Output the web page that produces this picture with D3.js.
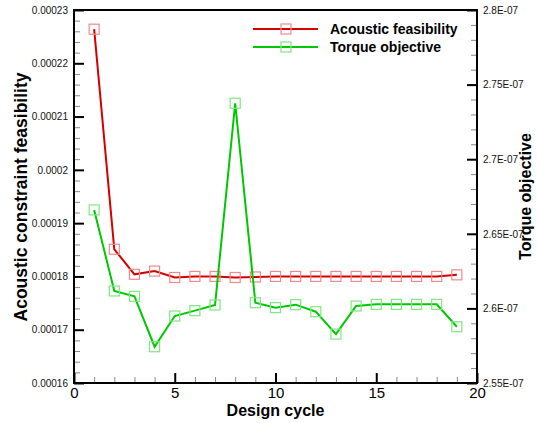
<!DOCTYPE html>
<html>
<head>
<meta charset="utf-8">
<script src="https://cdn.jsdelivr.net/npm/d3@7"></script>
<style>
  body { margin: 0; background: #fff; }
  svg { font-family: "Liberation Sans", Arial, sans-serif; }
  .minor line { stroke: #888; stroke-width: 1; }
  .major line { stroke: #000; stroke-width: 2; }
  .domain { display: none; }
</style>
</head>
<body>
<div id="chart"></div>
<script>
// data
const cycles = [1, 2, 3, 4, 5, 6, 7, 8, 9, 10, 11, 12, 13, 14, 15, 16, 17, 18, 19];
const acoustic = [0.0002264, 0.0001851, 0.0001804, 0.000181, 0.0001798, 0.00018, 0.00018, 0.0001798,
  0.0001799, 0.00018, 0.00018, 0.00018, 0.00018, 0.00018, 0.00018, 0.00018, 0.00018, 0.00018, 0.0001803];
const torque = [2.666e-7, 2.6117e-7, 2.6081e-7, 2.5743e-7, 2.5949e-7, 2.5985e-7, 2.6023e-7, 2.7375e-7,
  2.6038e-7, 2.6005e-7, 2.6025e-7, 2.5978e-7, 2.5828e-7, 2.6016e-7, 2.6027e-7, 2.6027e-7, 2.6027e-7, 2.6027e-7, 2.5877e-7];

const xTicks = [0, 5, 10, 15, 20];
const leftTicks = [0.00016, 0.00017, 0.00018, 0.00019, 0.0002, 0.00021, 0.00022, 0.00023];
const leftLabels = ["0.00016", "0.00017", "0.00018", "0.00019", "0.0002", "0.00021", "0.00022", "0.00023"];
const rightTicks = [2.55e-7, 2.6e-7, 2.65e-7, 2.7e-7, 2.75e-7, 2.8e-7];
const rightLabels = ["2.55E-07", "2.6E-07", "2.65E-07", "2.7E-07", "2.75E-07", "2.8E-07"];

const width = 537, height = 423;
const plotLeft = 74, plotRight = 477, plotTop = 10, plotBottom = 383;

const svg = d3.select("#chart").append("svg")
  .attr("width", width)
  .attr("height", height);

const x = d3.scaleLinear().domain([0, 20]).range([plotLeft, plotRight]);
const yL = d3.scaleLinear().domain([0.00016, 0.00023]).range([plotBottom, plotTop]);
const yR = d3.scaleLinear().domain([2.55e-7, 2.8e-7]).range([plotBottom, plotTop]);

// minor ticks
svg.append("g").attr("class", "minor")
  .attr("transform", `translate(0,${plotBottom})`)
  .call(d3.axisBottom(x).tickValues(d3.range(0, 21, 1)).tickSize(-6).tickFormat(""));
svg.append("g").attr("class", "minor")
  .attr("transform", `translate(${plotLeft},0)`)
  .call(d3.axisLeft(yL).tickValues(d3.range(0, 36).map(i => 0.00016 + i * 0.000002)).tickSize(-6).tickFormat(""));
svg.append("g").attr("class", "minor")
  .attr("transform", `translate(${plotRight},0)`)
  .call(d3.axisRight(yR).tickValues(d3.range(0, 26).map(i => 2.55e-7 + i * 1e-9)).tickSize(-6).tickFormat(""));

// major ticks
const xAxis = svg.append("g").attr("class", "major")
  .attr("transform", `translate(0,${plotBottom})`)
  .call(d3.axisBottom(x).tickValues(xTicks).tickSize(-10).tickPadding(6).tickFormat(d3.format("d")));
xAxis.selectAll("text").attr("font-size", 15).attr("fill", "#000").attr("y", 4);

const lAxis = svg.append("g").attr("class", "major")
  .attr("transform", `translate(${plotLeft},0)`)
  .call(d3.axisLeft(yL).tickValues(leftTicks).tickSize(-10).tickPadding(6)
    .tickFormat((d, i) => leftLabels[i]));
lAxis.selectAll("text").attr("font-size", 10).attr("fill", "#111").attr("x", -6);

const rAxis = svg.append("g").attr("class", "major")
  .attr("transform", `translate(${plotRight},0)`)
  .call(d3.axisRight(yR).tickValues(rightTicks).tickSize(-10).tickPadding(6)
    .tickFormat((d, i) => rightLabels[i]));
rAxis.selectAll("text").attr("font-size", 10).attr("fill", "#111").attr("x", 6);

// frame
svg.append("rect")
  .attr("x", plotLeft).attr("y", plotTop)
  .attr("width", plotRight - plotLeft).attr("height", plotBottom - plotTop)
  .attr("fill", "none").attr("stroke", "#000").attr("stroke-width", 2);

// series
const series = [
  { name: "Acoustic feasibility", values: acoustic, y: yL, line: "#d40000", marker: "#f08a8a" },
  { name: "Torque objective", values: torque, y: yR, line: "#00c800", marker: "#80e680" }
];

series.forEach(s => {
  const pts = cycles.map((c, i) => [c, s.values[i]]);
  svg.append("path")
    .datum(pts)
    .attr("fill", "none")
    .attr("stroke", s.line)
    .attr("stroke-width", 2)
    .attr("d", d3.line().x(d => x(d[0])).y(d => s.y(d[1])));
  svg.selectAll(null)
    .data(pts)
    .enter()
    .append("rect")
    .attr("x", d => x(d[0]) - 5)
    .attr("y", d => s.y(d[1]) - 5)
    .attr("width", 10).attr("height", 10)
    .attr("fill", "none")
    .attr("stroke", s.marker)
    .attr("stroke-width", 1.2);
});

// legend
const legend = svg.append("g");
series.forEach((s, i) => {
  const ly = 29 + i * 18;
  legend.append("line")
    .attr("x1", 253).attr("x2", 318).attr("y1", ly).attr("y2", ly)
    .attr("stroke", s.line).attr("stroke-width", 2);
  legend.append("rect")
    .attr("x", 281).attr("y", ly - 5).attr("width", 10).attr("height", 10)
    .attr("fill", "none").attr("stroke", s.marker).attr("stroke-width", 1.2);
  legend.append("text")
    .attr("x", 330).attr("y", ly + 5)
    .attr("font-size", 14).attr("font-weight", "bold")
    .text(s.name);
});

// axis titles
svg.append("text")
  .attr("x", (plotLeft + plotRight) / 2).attr("y", 416)
  .attr("text-anchor", "middle")
  .attr("font-size", 16).attr("font-weight", "bold")
  .text("Design cycle");

svg.append("text")
  .attr("transform", "translate(27,197) rotate(-90)")
  .attr("text-anchor", "middle")
  .attr("font-size", 17.5).attr("font-weight", "bold")
  .text("Acoustic constraint feasibility");

svg.append("text")
  .attr("transform", `translate(531,${(plotTop + plotBottom) / 2}) rotate(-90)`)
  .attr("text-anchor", "middle")
  .attr("font-size", 16).attr("font-weight", "bold")
  .text("Torque objective");
</script>
</body>
</html>
